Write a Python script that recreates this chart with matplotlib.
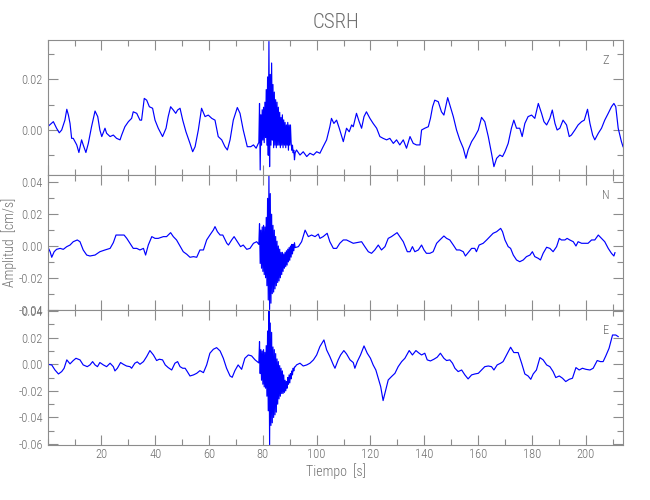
import numpy as np
import matplotlib
matplotlib.use("Agg")
import matplotlib.pyplot as plt
from matplotlib.ticker import MultipleLocator, FormatStrFormatter
from matplotlib import font_manager

names = {f.name for f in font_manager.fontManager.ttflist}
fam = [n for n in ['Roboto Condensed', 'Liberation Sans Narrow', 'Open Sans', 'Roboto', 'Lato',
                   'Liberation Sans', 'DejaVu Sans'] if n in names]
plt.rcParams['font.family'] = fam
plt.rcParams['font.weight'] = 'light'

# ---------------- data ----------------
title = "CSRH"
components = ["Z", "N", "E"]
xlabel = "Tiempo  [s]"
ylabel = "Amplitud  [cm/s]"

# Z component (cm/s), slow part
z_time = [0.0, 2.1, 3.3, 4.3, 5.2, 5.8, 6.4, 7.1, 7.7, 8.3, 8.9, 9.5, 10.8, 11.6, 12.6, 13.2, 14.2,
          15.1, 16.3, 17.6, 18.6, 19.4, 20.1, 21.3, 21.9, 23.2, 24.4, 25.6, 26.9, 27.5, 28.7, 30.0,
          31.2, 31.8, 33.1, 34.3, 34.9, 35.9, 36.8, 37.8, 39.0, 39.9, 41.1, 42.7, 44.0, 44.8, 45.7,
          46.7, 47.6, 48.3, 49.2, 50.2, 51.4, 52.9, 53.9, 54.8, 56.0, 57.2, 58.5, 59.7, 61.0, 62.2,
          63.4, 64.7, 65.9, 66.8, 67.8, 69.0, 70.5, 71.5, 72.7, 74.2, 75.5, 76.5, 77.5, 78.3,
          92.5, 93.8, 95.0, 96.3, 97.5, 98.8, 100.0, 101.2, 102.4, 103.7, 104.9, 105.5, 106.4,
          107.4, 108.4, 109.9, 111.1, 112.1, 113.0, 113.6, 114.8, 115.8, 116.7, 117.6, 118.5,
          119.8, 121.0, 122.3, 123.5, 124.7, 126.0, 127.2, 128.5, 129.7, 130.9, 132.2, 133.4,
          134.7, 135.9, 137.1, 138.4, 139.0, 140.2, 141.5, 142.3, 143.1, 143.9, 145.2, 146.4,
          147.3, 148.7, 149.5, 150.8, 152.0, 153.2, 154.5, 155.5, 156.3, 157.6, 158.8, 160.1,
          161.3, 162.5, 163.8, 165.0, 165.9, 166.9, 168.1, 169.1, 170.0, 171.2, 172.4, 173.3,
          174.3, 175.5, 176.4, 177.4, 178.6, 179.9, 181.1, 182.4, 183.6, 184.5, 185.5, 186.7,
          187.6, 188.6, 189.4, 190.4, 191.6, 192.9, 193.9, 194.7, 196.0, 197.2, 198.5, 199.5,
          200.7, 201.6, 202.6, 203.4, 204.7, 205.9, 207.1, 208.4, 209.6, 210.5, 211.2, 212.1,
          213.3, 213.9]
z_amp = [0.0013, 0.0033, 0.0007, -0.0011, 0.0, 0.002, 0.0039, 0.0082, 0.0059, 0.0026, -0.0033,
         -0.0033, -0.0059, -0.0089, -0.0039, -0.0059, -0.0089, -0.0053, 0.0013, 0.0075, 0.0053,
         0.0, -0.0026, 0.0007, -0.0013, -0.0026, -0.002, -0.0033, -0.0039, -0.002, 0.0013, 0.0033,
         0.0046, 0.0072, 0.0066, 0.0039, 0.0039, 0.0125, 0.0118, 0.0092, 0.0086, 0.0039, 0.0007,
         -0.0026, 0.0007, 0.0053, 0.0092, 0.0079, 0.0066, 0.0079, 0.0086, 0.0039, -0.0007,
         -0.0053, -0.0086, -0.0066, 0.0, 0.0086, 0.0053, 0.0059, 0.0046, 0.0039, -0.0026, -0.0039,
         -0.0066, -0.0079, -0.0039, 0.0039, 0.0089, 0.0066, 0.0, -0.0066, -0.0066, -0.0059,
         -0.0072, -0.0053,
         -0.0079, -0.0099, -0.0086, -0.0105, -0.0092, -0.0099, -0.0086, -0.0092, -0.0066, -0.0039,
         0.0013, 0.0046, 0.0026, 0.0039, 0.0007, -0.0046, 0.0007, -0.0007, 0.002, 0.0013, 0.0066,
         0.0033, 0.0007, 0.0053, 0.0072, 0.0046, 0.0026, 0.0007, -0.0026, -0.0033, -0.0039,
         -0.0033, -0.0053, -0.0039, -0.0059, -0.0039, -0.0072, -0.0026, -0.0053, -0.0059, -0.0059,
         0.0, 0.0007, 0.0013, 0.0046, 0.0092, 0.0118, 0.0112, 0.0072, 0.0059, 0.0128, 0.0099,
         0.0053, 0.0, -0.0039, -0.0072, -0.0112, -0.0079, -0.0046, -0.0026, 0.0, 0.005, 0.0033,
         -0.0026, -0.0092, -0.0145, -0.0112, -0.0099, -0.0105, -0.0086, -0.0053, 0.0007, 0.0039,
         0.0007, 0.0007, -0.0026, 0.0026, 0.0053, 0.0059, 0.0046, 0.0105, 0.0066, 0.0033, 0.002,
         0.0046, 0.0079, 0.0026, 0.0, 0.0007, 0.0039, 0.002, -0.0026, -0.002, 0.0, 0.002, 0.0033,
         0.0039, 0.0082, 0.0026, -0.002, -0.0039, -0.0013, 0.0007, 0.0039, 0.0066, 0.0092, 0.0105,
         0.0092, 0.0007, -0.0046, -0.0066]
# Z component, strong-motion burst sampled every 0.25 s from 78.5 s
z_burst = [-0.005, 0.0105, -0.0158, 0.006, -0.006, 0.008, -0.004, 0.009, -0.005, 0.011, -0.003,
           0.016, -0.006, 0.021, -0.010, 0.0350, -0.0145, 0.022, -0.006, 0.0265, -0.004, 0.018,
           -0.007, 0.015, -0.006, 0.012, -0.007, 0.011, -0.006, 0.009, -0.006, 0.007, -0.007,
           0.005, -0.006, 0.006, -0.007, 0.004, -0.006, 0.003, -0.007, 0.002, -0.006, 0.003,
           -0.008, 0.002, -0.006, 0.002, -0.005, -0.008, -0.006, -0.009, -0.008, -0.0118, -0.009]

# N component
n_time = [0.0, 0.9, 1.5, 2.4, 3.3, 4.6, 5.8, 7.1, 8.3, 9.5, 11.0, 12.0, 13.2, 14.5, 15.7, 17.6,
          19.4, 21.3, 23.2, 24.4, 25.4, 26.9, 28.4, 29.4, 30.6, 31.8, 33.1, 34.3, 35.6, 36.4,
          37.4, 38.7, 39.9, 41.1, 43.0, 44.2, 45.7, 46.7, 47.9, 49.2, 50.4, 51.7, 52.9, 54.2,
          55.4, 56.6, 57.9, 59.1, 60.3, 61.6, 62.2, 63.1, 64.1, 65.1, 66.0, 66.6, 67.2, 68.4,
          69.3, 70.5, 71.7, 72.7, 74.0, 75.2, 76.5, 77.7,
          93.2, 94.4, 95.7, 96.9, 98.1, 99.4, 100.6, 101.2, 102.4, 103.9, 104.9, 106.2, 107.4,
          108.6, 109.9, 111.1, 112.4, 113.6, 114.8, 116.7, 117.9, 119.2, 120.4, 121.6, 122.9,
          124.1, 125.4, 126.6, 127.8, 129.9, 130.9, 132.2, 133.7, 134.7, 135.6, 136.5, 137.8,
          139.0, 139.9, 140.8, 142.1, 143.3, 144.6, 145.8, 147.3, 148.3, 149.5, 150.8, 152.0,
          153.2, 154.5, 155.3, 156.3, 157.6, 158.8, 159.4, 160.4, 161.9, 163.2, 164.4, 165.6,
          166.9, 168.4, 169.1, 170.0, 171.2, 172.1, 173.1, 174.3, 175.5, 176.8, 178.0, 179.3,
          180.2, 181.1, 182.4, 183.2, 184.2, 185.5, 186.7, 187.9, 189.2, 190.2, 191.0, 192.3,
          193.1, 194.1, 195.4, 196.4, 197.2, 198.5, 199.7, 200.9, 202.2, 203.4, 204.7, 205.9,
          207.1, 208.4, 209.6, 210.5, 210.9]
n_amp = [-0.0004, -0.0036, -0.0071, -0.0036, -0.0021, -0.0015, -0.0021, -0.0004, 0.0006, 0.0027,
         0.0038, 0.0027, -0.0025, -0.0057, -0.0063, -0.0057, -0.0036, -0.0025, -0.0015, 0.0021,
         0.0069, 0.0069, 0.0069, 0.0048, 0.0017, -0.0015, -0.0015, -0.0025, -0.0015, -0.0057,
         0.0006, 0.0059, 0.0048, 0.0048, 0.0059, 0.0059, 0.0084, 0.0059, 0.0038, 0.0, -0.0036,
         -0.0052, -0.0071, -0.0067, -0.0071, -0.0025, -0.0025, 0.0038, 0.0069, 0.0101, 0.0122,
         0.009, 0.0069, 0.0069, 0.0038, 0.0017, 0.0006, 0.0038, 0.0059, 0.0027, -0.0004, 0.0006,
         -0.0021, -0.0015, 0.0017, 0.0027,
         -0.0004, 0.0027, 0.010, 0.0059, 0.0069, 0.0059, 0.0075, 0.0048, 0.0059, 0.008, 0.0027,
         -0.0015, -0.0015, 0.0017, 0.0038, 0.0038, 0.0027, 0.0017, 0.0021, 0.0027, -0.0004,
         -0.0036, -0.0046, -0.0025, 0.0006, -0.0025, -0.0004, 0.0048, 0.0059, 0.0084, 0.0059,
         0.0027, -0.0036, -0.0036, -0.0004, -0.0036, -0.0025, 0.0006, -0.0025, -0.0046, -0.0046,
         -0.0036, 0.0017, 0.0038, 0.0063, 0.0048, 0.0038, 0.0006, -0.0025, -0.0025, -0.0036,
         -0.0063, -0.0042, -0.0015, -0.0015, -0.0036, 0.0006, 0.0017, 0.0038, 0.0059, 0.008,
         0.009, 0.0111, 0.009, 0.0038, -0.0004, -0.0015, -0.0057, -0.0088, -0.0099, -0.0088,
         -0.0067, -0.0057, -0.0036, -0.0067, -0.0078, -0.0088, -0.0046, -0.0008, -0.0015,
         -0.0036, -0.0004, 0.0048, 0.0038, 0.0038, 0.0048, 0.0038, 0.0027, 0.0, 0.0027, 0.0017,
         0.0017, 0.0017, 0.0038, 0.0038, 0.0069, 0.0048, 0.0027, -0.0015, -0.0046, -0.0063,
         -0.0042]
n_burst = [0.001, 0.014, -0.011, 0.010, -0.014, 0.012, -0.016, 0.013, -0.018, 0.012, -0.020,
           0.018, -0.025, 0.030, -0.034, 0.0445, -0.040, 0.033, -0.036, 0.020, -0.030, 0.013,
           -0.029, 0.010, -0.027, 0.006, -0.025, 0.003, -0.023, 0.0, -0.022, -0.002, -0.020,
           -0.004, -0.018, -0.004, -0.016, -0.005, -0.014, -0.004, -0.013, -0.003, -0.012,
           -0.002, -0.010, -0.001, -0.009, 0.0, -0.007, 0.001, -0.005, 0.001, -0.003, 0.002,
           -0.001]

# E component
e_time = [0.0, 1.5, 2.7, 4.0, 5.2, 6.1, 7.1, 8.3, 9.5, 10.5, 12.0, 13.2, 14.7, 15.7, 16.7, 17.6,
          18.5, 19.4, 20.7, 21.9, 23.2, 24.4, 25.0, 25.9, 27.1, 28.1, 29.3, 30.6, 31.2, 32.4,
          33.3, 34.3, 35.6, 36.8, 38.0, 39.3, 40.5, 41.5, 42.7, 43.7, 44.8, 46.1, 47.3, 48.3,
          49.2, 50.2, 51.1, 51.9, 52.9, 54.2, 55.4, 56.6, 57.9, 59.1, 60.3, 61.6, 62.8, 64.1,
          65.3, 66.5, 67.8, 68.6, 69.6, 70.8, 72.1, 73.3, 74.6, 75.8, 77.1, 77.9,
          92.5, 93.8, 95.0, 96.3, 97.5, 98.8, 100.0, 101.2, 102.7, 103.7, 104.9, 106.2, 106.8,
          108.0, 108.9, 110.1, 111.1, 112.4, 113.6, 114.2, 115.1, 116.3, 117.6, 118.8, 120.0,
          121.0, 122.0, 122.9, 123.8, 124.7, 125.7, 126.6, 127.8, 129.1, 130.3, 131.6, 132.8,
          134.4, 135.6, 136.9, 138.1, 139.0, 140.2, 141.1, 142.3, 143.6, 144.8, 146.0, 147.3,
          148.3, 149.5, 150.5, 151.4, 152.6, 153.9, 155.1, 156.3, 157.6, 158.8, 160.1, 161.3,
          162.5, 163.8, 165.0, 165.9, 167.1, 168.4, 169.3, 170.6, 172.1, 173.3, 174.9, 176.2,
          177.4, 178.6, 179.6, 180.5, 181.7, 183.0, 184.2, 185.5, 186.7, 187.9, 188.9, 190.2,
          191.4, 192.6, 193.9, 195.1, 196.4, 197.6, 198.8, 200.1, 201.6, 202.8, 204.3, 205.5,
          206.5, 207.5, 208.7, 210.0, 211.2, 212.1]
e_amp = [0.0, -0.0005, -0.0043, -0.0073, -0.0055, -0.003, 0.0033, 0.0003, 0.0028, 0.0045, 0.0033,
         -0.0005, -0.0018, -0.0005, 0.002, -0.0005, -0.0018, 0.0013, -0.0005, -0.0018, 0.0008,
         -0.0018, -0.005, -0.003, 0.0013, 0.0, -0.0013, -0.0018, -0.003, 0.0008, 0.0018, 0.0,
         0.002, 0.0058, 0.0103, 0.007, 0.0028, 0.0038, 0.0033, -0.0005, -0.0025, -0.0043, 0.0008,
         0.002, -0.0018, -0.003, -0.003, -0.0055, -0.0088, -0.008, -0.0068, -0.0048, -0.0063,
         -0.0005, 0.0083, 0.0113, 0.0125, 0.010, 0.0045, -0.003, -0.0088, -0.0098, -0.0048,
         -0.0005, -0.0038, 0.0045, 0.007, 0.0063, 0.0033, 0.002,
         -0.0005, 0.0008, -0.0013, -0.0005, 0.0008, 0.0033, 0.007, 0.0133, 0.0183, 0.0108,
         0.0058, -0.0005, -0.003, 0.0033, 0.007, 0.0103, 0.0078, 0.0033, 0.0013, -0.003, 0.002,
         0.007, 0.0138, 0.0083, 0.0045, -0.0005, -0.0043, -0.0105, -0.0168, -0.0273, -0.0193,
         -0.0118, -0.0093, -0.0068, -0.0018, 0.002, 0.0045, 0.0103, 0.007, 0.0103, 0.0083, 0.007,
         0.0083, 0.0033, 0.0025, 0.0038, 0.0053, 0.0083, 0.0045, 0.0028, 0.0033, 0.0008, -0.003,
         -0.0055, -0.0043, -0.008, -0.011, -0.008, -0.0073, -0.0068, -0.0043, -0.0018, -0.0013,
         -0.0018, -0.0043, -0.0005, 0.0008, 0.002, 0.007, 0.0128, 0.0088, 0.0088, 0.0008,
         -0.0073, -0.0088, -0.0113, -0.0073, -0.0043, 0.005, 0.0033, -0.0005, -0.0018, -0.0055,
         -0.010, -0.0088, -0.0105, -0.013, -0.0113, -0.0105, -0.0025, -0.0043, -0.003, -0.0038,
         -0.0043, -0.003, 0.0028, 0.002, 0.002, 0.0063, 0.012, 0.022, 0.022, 0.0208]
e_burst = [0.001, 0.017, -0.007, 0.011, -0.012, 0.010, -0.015, 0.011, -0.017, 0.009, -0.018,
           0.014, -0.024, 0.025, -0.035, 0.0405, -0.0605, 0.031, -0.046, 0.024, -0.044, 0.013,
           -0.040, 0.011, -0.038, 0.008, -0.036, 0.004, -0.030, 0.002, -0.026, -0.001, -0.024,
           -0.003, -0.022, -0.005, -0.022, -0.008, -0.021, -0.012, -0.020, -0.013, -0.018,
           -0.010, -0.015, -0.008, -0.014, -0.007, -0.011, -0.005, -0.008, -0.003, -0.005,
           -0.002, -0.002]

burst_start = 78.5
burst_step = 0.25

y_limits = [(-0.0178, 0.0356), (-0.0403, 0.0447), (-0.0607, 0.0408)]
x_limits = (0.0, 214.0)


def merged(times, amps, burst):
    tb = burst_start + burst_step * np.arange(len(burst))
    t = np.concatenate([np.asarray(times, float), tb])
    v = np.concatenate([np.asarray(amps, float), np.asarray(burst, float)])
    order = np.argsort(t, kind="stable")
    return t[order], v[order]


series = [merged(z_time, z_amp, z_burst),
          merged(n_time, n_amp, n_burst),
          merged(e_time, e_amp, e_burst)]

# ---------------- drawing ----------------
W, H = 650, 500
fig = plt.figure(figsize=(W / 100, H / 100), dpi=100)
gray_txt = "#6e6e6e"
gray_ax = "#8c8c8c"
plt.rcParams['axes.unicode_minus'] = True

left, right = 47.7, 623.3
tops = [40, 175, 310]
ph = 135
for i, (comp, (t, v), yl) in enumerate(zip(components, series, y_limits)):
    top = tops[i]
    ax = fig.add_axes([left / W, 1 - (top + ph) / H, (right - left) / W, ph / H])
    ax.plot(t, v, color="#0000ff", lw=0.85)
    ax.set_xlim(*x_limits)
    ax.set_ylim(*yl)
    ax.xaxis.set_major_locator(MultipleLocator(20))
    ax.xaxis.set_minor_locator(MultipleLocator(10))
    ax.yaxis.set_major_locator(MultipleLocator(0.02))
    ax.yaxis.set_minor_locator(MultipleLocator(0.01))
    ax.yaxis.set_major_formatter(FormatStrFormatter('%.2f'))
    ax.tick_params(which='both', direction='in', top=True, right=True,
                   color=gray_ax, labelcolor=gray_txt, labelsize=9, width=0.8)
    ax.tick_params(which='major', length=7)
    ax.tick_params(which='minor', length=4)
    ax.tick_params(axis='x', pad=2)
    for s in ax.spines.values():
        s.set_color(gray_ax)
        s.set_linewidth(0.8)
    if i < 2:
        ax.tick_params(axis='x', labelbottom=False)
    else:
        ax.set_xticks(np.arange(20, 201, 20))
        ax.set_xticklabels([str(k) for k in range(20, 201, 20)])
    ax.text(0.97, 0.845, comp, transform=ax.transAxes, ha='center', va='center',
            color=gray_txt, fontsize=9)

fig.text(336 / W, 1 - 22 / H, title, ha='center', va='center', color=gray_txt, fontsize=15)
fig.text(336 / W, 1 - 471 / H, xlabel, ha='center', va='center', color=gray_txt, fontsize=10)
fig.text(9 / W, 1 - 242 / H, ylabel, ha='center', va='center', rotation=90,
         color=gray_txt, fontsize=10)

fig.savefig("out.png", dpi=100)
